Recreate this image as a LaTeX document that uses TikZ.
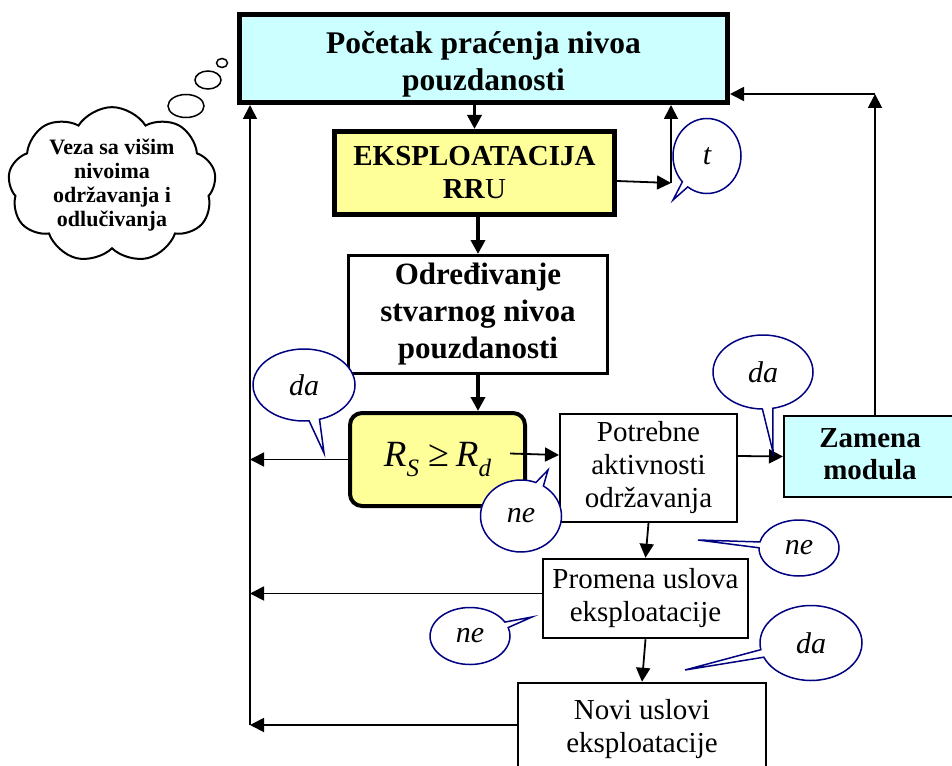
\documentclass[tikz,border=0pt]{standalone}
\usepackage{fontspec}
\setmainfont{Liberation Serif}
\usetikzlibrary{arrows.meta,shapes.callouts,shapes.symbols,shapes.geometric}
\definecolor{cyanbox}{HTML}{CCFFFF}
\definecolor{yelbox}{HTML}{FFFF99}
\definecolor{navyc}{HTML}{000080}
\tikzset{
  boxbase/.style={rectangle, draw=black, inner sep=0pt, align=center},
  fatbox/.style={boxbase, line width=5pt},
  midbox/.style={boxbase, line width=3pt},
  thinbox/.style={boxbase, line width=2pt},
  txt/.style={font=\fontsize{29}{33}\selectfont},
  arr/.style={line width=1.8pt, -{Triangle[length=14pt,width=14pt]}},
  fatarr/.style={line width=3.5pt, -{Triangle[length=14pt,width=14pt]}},
  bubble/.style={ellipse callout, draw=navyc, line width=1.5pt, fill=white, inner sep=0pt,
    font=\fontsize{30}{30}\selectfont\itshape, callout pointer arc=12},
  puff/.style={ellipse, draw=black, line width=1.5pt, fill=white, inner sep=0pt},
}
\begin{document}
\begin{tikzpicture}[x=1pt,y=-1pt]
\useasboundingbox (0,0) rectangle (952,765);

% boxes
\node[fatbox, fill=cyanbox, minimum width=488pt, minimum height=88pt] (top) at (483.5,58.5) {};
\node[align=center, inner sep=0pt, font=\fontsize{31.5}{37}\selectfont\bfseries] (toptxt) at (483.5,64) {Početak praćenja nivoa\\pouzdanosti};

\node[fatbox, fill=yelbox, minimum width=280pt, minimum height=83pt, txt] (eks) at (474.5,173) {\textbf{EKSPLOATACIJA}\\\textbf{RR}U};

\node[midbox, fill=white, minimum width=259pt, minimum height=118pt, font=\fontsize{31}{37}\selectfont\bfseries] (odr) at (478,314.5) {Određivanje\\stvarnog nivoa\\pouzdanosti};

\node[boxbase, line width=4pt, rounded corners=12pt, fill=yelbox, minimum width=175pt, minimum height=93pt] (rs) at (437.5,459.5)
  {\raisebox{6pt}{\fontsize{37}{37}\selectfont\itshape R\raisebox{-10pt}{\fontsize{25}{25}\selectfont S}\hspace{9pt}{\upshape\fontsize{38}{38}\selectfont ≥}\hspace{7pt}R\raisebox{-10pt}{\fontsize{25}{25}\selectfont d}}};

\node[thinbox, fill=white, minimum width=177pt, minimum height=108pt, txt] (pot) at (648.5,468) {Potrebne\\aktivnosti\\održavanja};

\node[thinbox, fill=cyanbox, minimum width=172pt, minimum height=81pt, font=\fontsize{29}{31}\selectfont\bfseries] (zam) at (870,456.5) {\raisebox{5pt}{Zamena}\\\raisebox{5pt}{modula}};

\node[thinbox, line width=2.5pt, fill=white, minimum width=205pt, minimum height=79pt, txt] (prom) at (645.5,598.5) {Promena uslova\\eksploatacije};

\node[thinbox, line width=2.5pt, fill=white, minimum width=248pt, minimum height=92pt, txt] (novi) at (642,729) {Novi uslovi\\eksploatacije};

% cloud and thought puffs
\node[cloud, draw=black, line width=2pt, fill=white, cloud puffs=9, cloud puff arc=115, cloud ignores aspect,
  minimum width=208pt, minimum height=142pt, inner sep=0pt, align=center,
  font=\fontsize{22}{24}\selectfont\bfseries] (cl) at (112,185) {Veza sa višim\\nivoima\\održavanja i\\odlučivanja};
\node[puff, minimum width=11pt, minimum height=9pt] (p1) at (222,63) {};
\node[puff, minimum width=26pt, minimum height=18pt] (p2) at (208,80) {};
\node[puff, minimum width=36pt, minimum height=23pt] (p3) at (186,106) {};

% helper coordinates
\coordinate (tt) at (671,183);
\coordinate (rr) at (875,94);
\coordinate (ll) at (250,725);

% connectors
\draw[fatarr] (top.south -| eks.north) -- (eks.north);
\draw[fatarr] (eks.south -| odr.north) -- (odr.north);
\draw[fatarr] (odr.south) -- (odr.south |- rs.north);
\draw[arr] ([yshift=-8pt]eks.east) -- (tt);
\draw[arr] (tt) -- (top.south -| tt);
\draw[arr] (zam.north -| rr) -- (rr);
\draw[arr] (rr) -- (top.east |- rr);
\draw[arr] (ll) -- (top.south -| ll);
\draw[arr] (rs.west) -- (rs.west -| ll);
\draw[arr] ([xshift=-17pt,yshift=6pt]rs.east) -- ([yshift=13pt]pot.west);
\draw[arr] ([yshift=12pt]pot.east) -- (zam.west);
\draw[arr] (pot.south) -- (prom.north);
\draw[arr] ([yshift=5pt]prom.west) -- ([yshift=5pt]prom.west -| ll);
\draw[arr] (prom.south) -- (novi.north);
\draw[arr] ([yshift=4pt]novi.west) -- (ll);

% callouts
\node[bubble, minimum width=68pt, minimum height=75pt, callout absolute pointer={(673,200)}] (tb) at (707,156) {t};
\node[bubble, minimum width=102pt, minimum height=72pt, callout absolute pointer={(324,453)}] (da1) at (304,385) {da};
\node[bubble, minimum width=81pt, minimum height=72pt, callout absolute pointer={(548,470)}] (ne1) at (521,516) {ne};
\node[bubble, minimum width=100pt, minimum height=74pt, callout absolute pointer={(773,452)}] (da2) at (763,372) {da};
\node[bubble, minimum width=80pt, minimum height=56pt, callout absolute pointer={(698,540)}] (ne2) at (799,548) {ne};
\node[bubble, minimum width=80pt, minimum height=57pt, callout absolute pointer={(532,617)}] (ne3) at (470,636) {ne};
\node[bubble, minimum width=102pt, minimum height=75pt, callout absolute pointer={(685,670)}] (da3) at (811,643) {da};
\end{tikzpicture}
\end{document}
